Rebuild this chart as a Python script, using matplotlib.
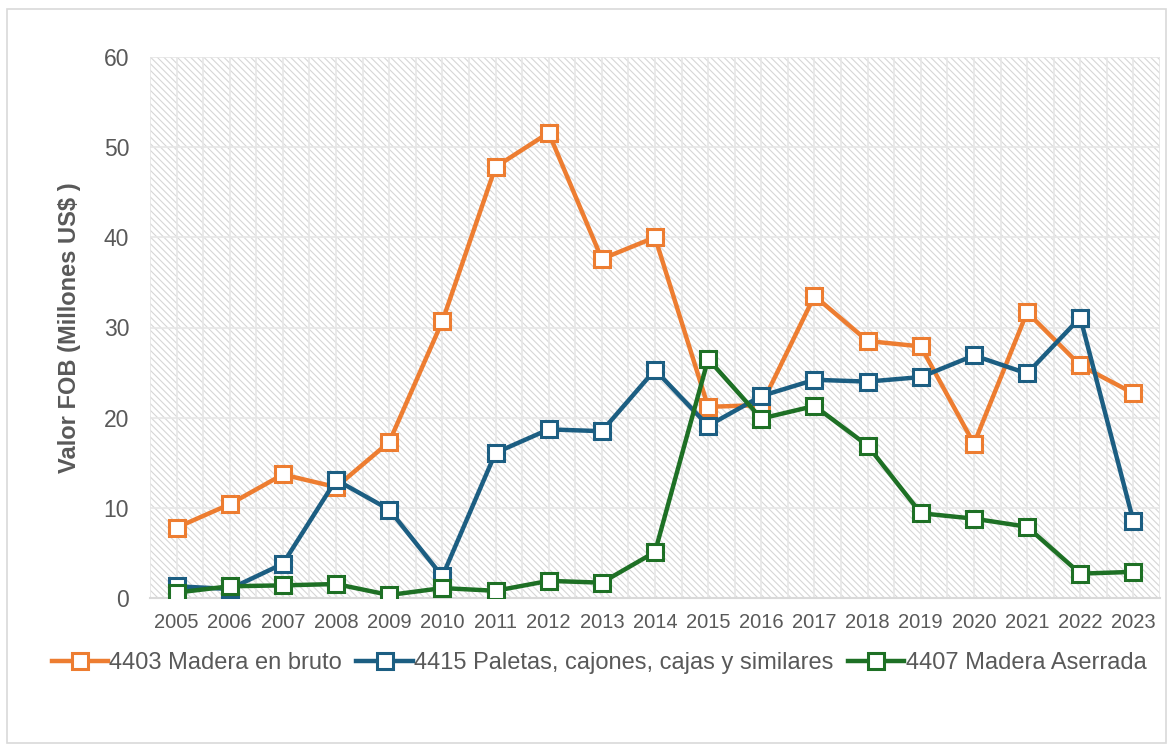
import numpy as np
import matplotlib.pyplot as plt
from matplotlib.patches import Rectangle

years = [str(y) for y in range(2005, 2024)]

madera_bruto = [7.8, 10.4, 13.7, 12.3, 17.3, 30.7, 47.8, 51.6, 37.6, 40.0,
                21.2, 21.4, 33.5, 28.5, 27.9, 17.1, 31.7, 25.8, 22.7]
paletas = [1.3, 1.0, 3.8, 13.1, 9.8, 2.4, 16.1, 18.7, 18.5, 25.3,
           19.1, 22.4, 24.2, 24.0, 24.5, 26.9, 24.9, 31.1, 8.5]
aserrada = [0.6, 1.3, 1.4, 1.55, 0.33, 1.1, 0.8, 1.9, 1.7, 5.1,
            26.5, 19.9, 21.3, 16.9, 9.4, 8.8, 7.9, 2.7, 2.9]

series = [
    ("4403 Madera en bruto", madera_bruto, "#ED7D31"),
    ("4415 Paletas, cajones, cajas y similares", paletas, "#1C5E82"),
    ("4407 Madera Aserrada", aserrada, "#1E7025"),
]


def main():
    plt.rcParams['font.family'] = ['Liberation Sans', 'DejaVu Sans']
    plt.rcParams['hatch.linewidth'] = 0.8
    gris = "#595959"

    fig = plt.figure(figsize=(11.7, 7.44), dpi=100)
    # borde del area del grafico
    fig.patches.append(Rectangle((7 / 1170, 0.001), 1159 / 1170, 1 - 10 / 744,
                                 transform=fig.transFigure, fill=False,
                                 edgecolor="#D9D9D9", linewidth=1.2))

    ax = fig.add_axes([150 / 1170, 1 - 598 / 744, 1010 / 1170, 541 / 744])
    x = np.arange(len(years))

    # fondo rayado
    ax.add_patch(Rectangle((-0.5, 0), len(years), 60, facecolor="white",
                           edgecolor="#D6D6D6", hatch="\\\\\\\\\\", linewidth=0, zorder=0))
    for xv in np.arange(-0.5, len(years), 0.5):
        ax.axvline(xv, color="#E6E6E6", linewidth=1.2, zorder=0.5)
    for yv in range(10, 61, 10):
        ax.axhline(yv, color="#E6E6E6", linewidth=1.2, zorder=0.5)

    for nombre, vals, color in series:
        ax.plot(x, vals, color=color, linewidth=3.2, marker="s", markersize=11,
                markerfacecolor="white", markeredgecolor=color, markeredgewidth=2.2,
                label=nombre, zorder=3)

    ax.set_xlim(-0.5, len(years) - 0.5)
    ax.set_ylim(0, 60)
    ax.set_xticks(x)
    ax.set_xticklabels(years)
    ax.set_yticks(range(0, 61, 10))
    ax.tick_params(axis="both", length=0, colors=gris)
    ax.tick_params(axis="y", pad=15, labelsize=16.5)
    ax.tick_params(axis="x", pad=11, labelsize=14.5)
    for s in ["top", "right", "left"]:
        ax.spines[s].set_visible(False)
    ax.spines["bottom"].set_color("#D9D9D9")
    ax.spines["bottom"].set_linewidth(1.5)

    ax.set_ylabel("Valor FOB (Millones US$ )", fontsize=17, fontweight="bold",
                  color=gris, labelpad=16)

    ax.legend(loc="center", bbox_to_anchor=(599 / 1170, 1 - 663 / 744),
              bbox_transform=fig.transFigure, ncol=3, frameon=False,
              fontsize=17, labelcolor=gris, handlelength=2.4,
              handletextpad=0.05, columnspacing=0.6)

    fig.savefig("out.png", dpi=100)


if __name__ == "__main__":
    main()
